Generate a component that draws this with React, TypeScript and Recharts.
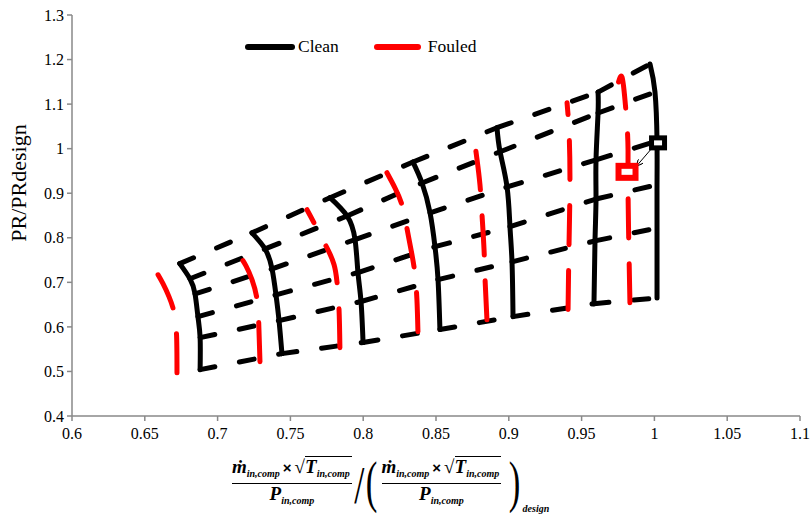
import React from 'react';
import { ComposedChart, Line, Scatter, XAxis, YAxis } from 'recharts';

// tick values
const xTicks = [0.6, 0.65, 0.7, 0.75, 0.8, 0.85, 0.9, 0.95, 1, 1.05, 1.1];
const yTicks = [0.4, 0.5, 0.6, 0.7, 0.8, 0.9, 1, 1.1, 1.2, 1.3];

// clean speed lines, points listed at beta 1 (top) .. beta 6 (bottom)
const cleanX = [
    [0.674, 0.681, 0.6845, 0.6865, 0.688, 0.688],
    [0.7236, 0.7326, 0.7374, 0.7401, 0.7422, 0.7442],
    [0.7772, 0.7889, 0.7944, 0.7964, 0.7985, 0.7999],
    [0.8342, 0.8404, 0.8459, 0.8493, 0.8514, 0.8527],
    [0.8919, 0.894, 0.8988, 0.9008, 0.9022, 0.9029],
    [0.9613, 0.9613, 0.9599, 0.9599, 0.9592, 0.9585],
    [0.997, 1.0004, 1.0018, 1.0018, 1.0018, 1.0018],
];
const cleanY = [
    [0.742, 0.708, 0.674, 0.623, 0.576, 0.504],
    [0.811, 0.775, 0.73, 0.672, 0.614, 0.54],
    [0.89, 0.849, 0.796, 0.722, 0.657, 0.565],
    [0.97, 0.923, 0.856, 0.78, 0.706, 0.594],
    [1.047, 0.993, 0.914, 0.825, 0.746, 0.623],
    [1.127, 1.08, 0.975, 0.887, 0.793, 0.652],
    [1.19, 1.127, 1.017, 0.919, 0.822, 0.665],
];

// fouled speed lines, from the bottom up
const fouledX = [
    [0.6721, 0.6718, 0.67, 0.6666, 0.6625, 0.6591],
    [0.7291, 0.7284, 0.7271, 0.7236, 0.7195, 0.714],
    [0.784, 0.7834, 0.782, 0.78, 0.7758, 0.7703, 0.7655, 0.7614],
    [0.8376, 0.8369, 0.8356, 0.8335, 0.83, 0.8266, 0.8218, 0.8163],
    [0.885, 0.8837, 0.883, 0.8816, 0.8802, 0.8782, 0.8768],
    [0.9407, 0.9413, 0.942, 0.9413, 0.94],
    [0.9832, 0.9825, 0.9819, 0.9819, 0.9812, 0.9798, 0.9777, 0.975],
];
const fouledY = [
    [0.497, 0.5825, 0.634, 0.668, 0.697, 0.717],
    [0.522, 0.594, 0.661, 0.706, 0.737, 0.766],
    [0.553, 0.639, 0.701, 0.7395, 0.773, 0.807, 0.838, 0.863],
    [0.589, 0.661, 0.717, 0.762, 0.822, 0.874, 0.912, 0.946],
    [0.616, 0.706, 0.773, 0.852, 0.919, 0.975, 1.009],
    [0.639, 0.773, 0.93, 1.042, 1.103],
    [0.654, 0.773, 0.908, 0.997, 1.053, 1.109, 1.161, 1.145],
];

// design points and the arrow between them
const designClean = [1.0025, 1.013];
const designFouled = [0.9812, 0.948];
const arrowFrom = [0.998, 1.0];
const arrowTo = [0.988, 0.962];

const serif = '"Liberation Serif", "Times New Roman", serif';
const axisGrey = '#898989';

const toPoints = (xs: number[], ys: number[]) => xs.map((x, i) => ({ x, y: ys[i] }));

// beta lines: one short series per gap between clean speed lines
const betaSegments: { x: number; y: number }[][] = [];
for (let b = 0; b < 6; b++) {
    for (let s = 0; s < cleanX.length - 1; s++) {
        betaSegments.push([
            { x: cleanX[s][b], y: cleanY[s][b] },
            { x: cleanX[s + 1][b], y: cleanY[s + 1][b] },
        ]);
    }
}

const Sub = ({ children }: { children: React.ReactNode }) => (
    <span style={{ fontSize: 10, position: 'relative', top: 4 }}>{children}</span>
);

const FlowFraction = () => (
    <div style={{ display: 'flex', flexDirection: 'column', alignItems: 'center' }}>
        <div style={{ display: 'flex', alignItems: 'baseline', height: 25 }}>
            <span style={{ fontSize: 19 }}>ṁ</span>
            <Sub>in,comp</Sub>
            <span style={{ fontSize: 15, fontFamily: '"Liberation Sans", Arial, sans-serif', fontStyle: 'normal', margin: '0 3px' }}>×</span>
            <span style={{ fontSize: 19, fontStyle: 'normal', fontWeight: 700 }}>√</span>
            <span style={{ borderTop: '1.5px solid #000', display: 'inline-flex', alignItems: 'baseline', paddingRight: 2 }}>
                <span style={{ fontSize: 19 }}>T</span>
                <Sub>in,comp</Sub>
            </span>
        </div>
        <div style={{ alignSelf: 'stretch', borderTop: '1.5px solid #000', marginTop: 2 }} />
        <div style={{ display: 'flex', alignItems: 'baseline', height: 24 }}>
            <span style={{ fontSize: 19 }}>P</span>
            <Sub>in,comp</Sub>
        </div>
    </div>
);

export default function App() {
    return (
        <div style={{ position: 'absolute', left: 0, top: 0, width: 811, height: 515, background: '#fff' }}>
            <ComposedChart width={811} height={515} margin={{ top: 15, right: 11, bottom: 69, left: 0 }}>
                <defs>
                    <marker id="arrowHead" viewBox="0 0 10 10" refX="9" refY="5" markerWidth="7" markerHeight="7" orient="auto">
                        <path d="M0,0 L10,5 L0,10" fill="none" stroke="#000" strokeWidth={1.5} />
                    </marker>
                </defs>
                <XAxis
                    type="number"
                    dataKey="x"
                    domain={[0.6, 1.1]}
                    ticks={xTicks}
                    height={30}
                    allowDataOverflow
                    interval={0}
                    tickSize={5}
                    tickMargin={7}
                    tick={{ fontSize: 16, fill: '#000', fontFamily: serif }}
                    axisLine={{ stroke: axisGrey, strokeWidth: 1.5 }}
                    tickLine={{ stroke: axisGrey, strokeWidth: 1.5 }}
                />
                <YAxis
                    type="number"
                    dataKey="y"
                    domain={[0.4, 1.3]}
                    ticks={yTicks}
                    width={72}
                    allowDataOverflow
                    interval={0}
                    tickSize={5}
                    tickMargin={3}
                    tick={{ fontSize: 16, fill: '#000', fontFamily: serif }}
                    axisLine={{ stroke: axisGrey, strokeWidth: 1.5 }}
                    tickLine={{ stroke: axisGrey, strokeWidth: 1.5 }}
                />

                {/* clean speed lines */}
                {cleanX.map((xs, i) => (
                    <Line
                        key={'clean' + i}
                        data={toPoints(xs, cleanY[i])}
                        dataKey="y"
                        type="natural"
                        stroke="#000"
                        strokeWidth={5}
                        strokeLinecap="round"
                        dot={false}
                        activeDot={false}
                        isAnimationActive={false}
                    />
                ))}

                {/* beta lines, dashed */}
                {betaSegments.map((seg, i) => (
                    <Line
                        key={'beta' + i}
                        data={seg}
                        dataKey="y"
                        type="linear"
                        stroke="#000"
                        strokeWidth={5}
                        strokeLinecap="round"
                        strokeDasharray="15 25"
                        dot={false}
                        activeDot={false}
                        isAnimationActive={false}
                    />
                ))}

                {/* fouled speed lines */}
                {fouledX.map((xs, i) => (
                    <Line
                        key={'fouled' + i}
                        data={toPoints(xs, fouledY[i])}
                        dataKey="y"
                        type="natural"
                        stroke="#ff0000"
                        strokeWidth={5}
                        strokeLinecap="round"
                        strokeDasharray="39 26"
                        dot={false}
                        activeDot={false}
                        isAnimationActive={false}
                    />
                ))}

                <Line
                    data={[{ x: arrowFrom[0], y: arrowFrom[1] }, { x: arrowTo[0], y: arrowTo[1] }]}
                    dataKey="y"
                    type="linear"
                    stroke="#000"
                    strokeWidth={1}
                    markerEnd="url(#arrowHead)"
                    dot={false}
                    activeDot={false}
                    isAnimationActive={false}
                />

                <Scatter
                    data={[{ x: designClean[0], y: designClean[1] }]}
                    dataKey="y"
                    isAnimationActive={false}
                    shape={(p: any) => (
                        <rect x={p.cx - 6.5} y={p.cy - 5} width={13} height={10} fill="#fff" stroke="#000" strokeWidth={5} />
                    )}
                />
                <Scatter
                    data={[{ x: designFouled[0], y: designFouled[1] }]}
                    dataKey="y"
                    isAnimationActive={false}
                    shape={(p: any) => (
                        <rect x={p.cx - 8.5} y={p.cy - 6} width={17} height={12} fill="#fff" stroke="#ff0000" strokeWidth={6} />
                    )}
                />
            </ComposedChart>

            {/* legend */}
            <div style={{ position: 'absolute', left: 245, top: 36, display: 'flex', alignItems: 'center', fontFamily: serif, fontSize: 17.5, color: '#000' }}>
                <div style={{ width: 50, height: 6, borderRadius: 3, background: '#000' }} />
                <span style={{ marginLeft: 3 }}>Clean</span>
                <div style={{ width: 47, height: 6, borderRadius: 3, background: '#ff0000', marginLeft: 35 }} />
                <span style={{ marginLeft: 7 }}>Fouled</span>
            </div>

            {/* y axis title */}
            <div
                style={{
                    position: 'absolute',
                    left: 19 - 100,
                    top: 183 - 12,
                    width: 200,
                    height: 24,
                    lineHeight: '24px',
                    textAlign: 'center',
                    transform: 'rotate(-90deg)',
                    fontFamily: serif,
                    fontSize: 22,
                    color: '#000',
                }}
            >
                PR/PRdesign
            </div>

            {/* x axis title */}
            <div
                style={{
                    position: 'absolute',
                    left: 232,
                    top: 452,
                    display: 'flex',
                    alignItems: 'center',
                    fontFamily: serif,
                    fontWeight: 700,
                    fontStyle: 'italic',
                    color: '#000',
                    lineHeight: 1,
                }}
            >
                <FlowFraction />
                <span style={{ fontSize: 52, fontStyle: 'normal', fontWeight: 400, marginTop: 8, transform: 'scaleX(0.7)' }}>/</span>
                <span style={{ fontSize: 58, fontStyle: 'normal', fontWeight: 400, transform: 'scaleX(0.6)', marginLeft: -4 }}>(</span>
                <FlowFraction />
                <span style={{ fontSize: 58, fontStyle: 'normal', fontWeight: 400, transform: 'scaleX(0.6)', marginLeft: 4 }}>)</span>
                <span style={{ fontSize: 10, alignSelf: 'flex-end', marginBottom: -2, marginLeft: -2 }}>design</span>
            </div>
        </div>
    );
}
